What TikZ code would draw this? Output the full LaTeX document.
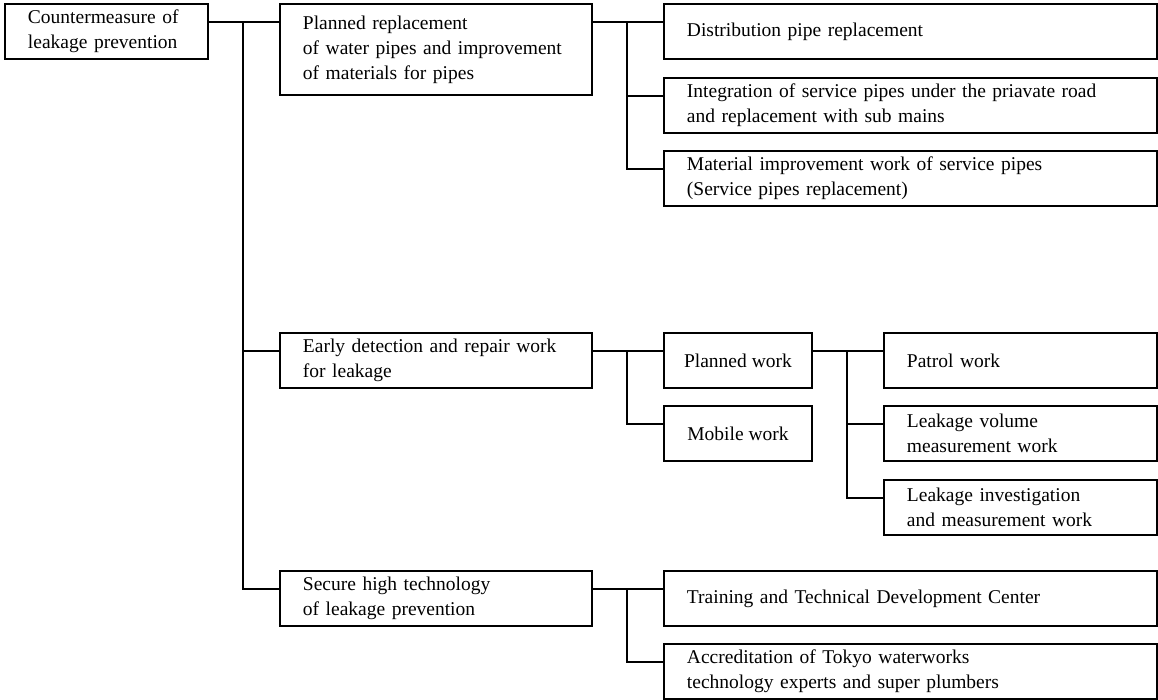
\documentclass[tikz,border=0pt]{standalone}
\usepackage{fontspec}
\setmainfont{Liberation Serif}
\tikzset{
  blk/.style={draw, line width=1.1pt, anchor=north west, align=left,
    inner xsep=0.46cm, inner ysep=0pt, minimum height=1.1cm,
    font={\fontsize{11.1pt}{14.2pt}\selectfont}},
  rootbox/.style={blk, text width=3.14cm},
  midbox/.style={blk, text width=5.32cm},
  longbox/.style={blk, text width=8.94cm},
  smallbox/.style={blk, inner xsep=0pt, minimum width=2.96cm},
  workbox/.style={blk, text width=4.54cm},
  tapy/.style={yshift=-0.38cm},
  link/.style={line width=1.1pt}
}
\begin{document}
\begin{tikzpicture}
      [x=0.02cm, y=-0.02cm]
      \useasboundingbox (0,0) rectangle (1158,699);
      \node[rootbox] (root) at (4,3) {Countermeasure of\\leakage prevention};
      \node[midbox, minimum height=1.82cm] (plan) at (279,3)
        {Planned replacement\\of water pipes and improvement\\of materials for pipes};
      \node[longbox] (dist) at (663,3) {Distribution pipe replacement};
      \node[longbox] (integ) at (663,77)
        {Integration of service pipes under the priavate road\\and replacement with sub mains};
      \node[longbox] (mat) at (663,150)
        {Material improvement work of service pipes\\(Service pipes replacement)};
      \node[midbox] (early) at (279,332) {Early detection and repair work\\for leakage};
      \node[smallbox] (pwork) at (663,332) {Planned work};
      \node[smallbox] (mobile) at (663,405) {Mobile work};
      \node[workbox] (patrol) at (883,332) {Patrol work};
      \node[workbox] (leakvol) at (883,405) {Leakage volume\\measurement work};
      \node[workbox] (leakinv) at (883,479) {Leakage investigation\\and measurement work};
      \node[midbox] (secure) at (279,570) {Secure high technology\\of leakage prevention};
      \node[longbox] (train) at (663,570) {Training and Technical Development Center};
      \node[longbox] (accred) at (663,643)
        {Accreditation of Tokyo waterworks\\technology experts and super plumbers};
      \coordinate (j1) at (243,22);
      \coordinate (j2) at (627,22);
      \coordinate (j3) at (627,351);
      \coordinate (j4) at (847,351);
      \coordinate (j5) at (627,588);
      \draw[link] ([tapy]root.north east) -- ([tapy]plan.north west);
      \draw[link] (j1) |- ([tapy]early.north west);
      \draw[link] (j1) |- ([tapy]secure.north west);
      \draw[link] ([tapy]plan.north east) -- ([tapy]dist.north west);
      \draw[link] (j2) |- ([tapy]integ.north west);
      \draw[link] (j2) |- ([tapy]mat.north west);
      \draw[link] ([tapy]early.north east) -- ([tapy]pwork.north west);
      \draw[link] (j3) |- ([tapy]mobile.north west);
      \draw[link] ([tapy]pwork.north east) -- ([tapy]patrol.north west);
      \draw[link] (j4) |- ([tapy]leakvol.north west);
      \draw[link] (j4) |- ([tapy]leakinv.north west);
      \draw[link] ([tapy]secure.north east) -- ([tapy]train.north west);
      \draw[link] (j5) |- ([tapy]accred.north west);
    \end{tikzpicture}
\end{document}
